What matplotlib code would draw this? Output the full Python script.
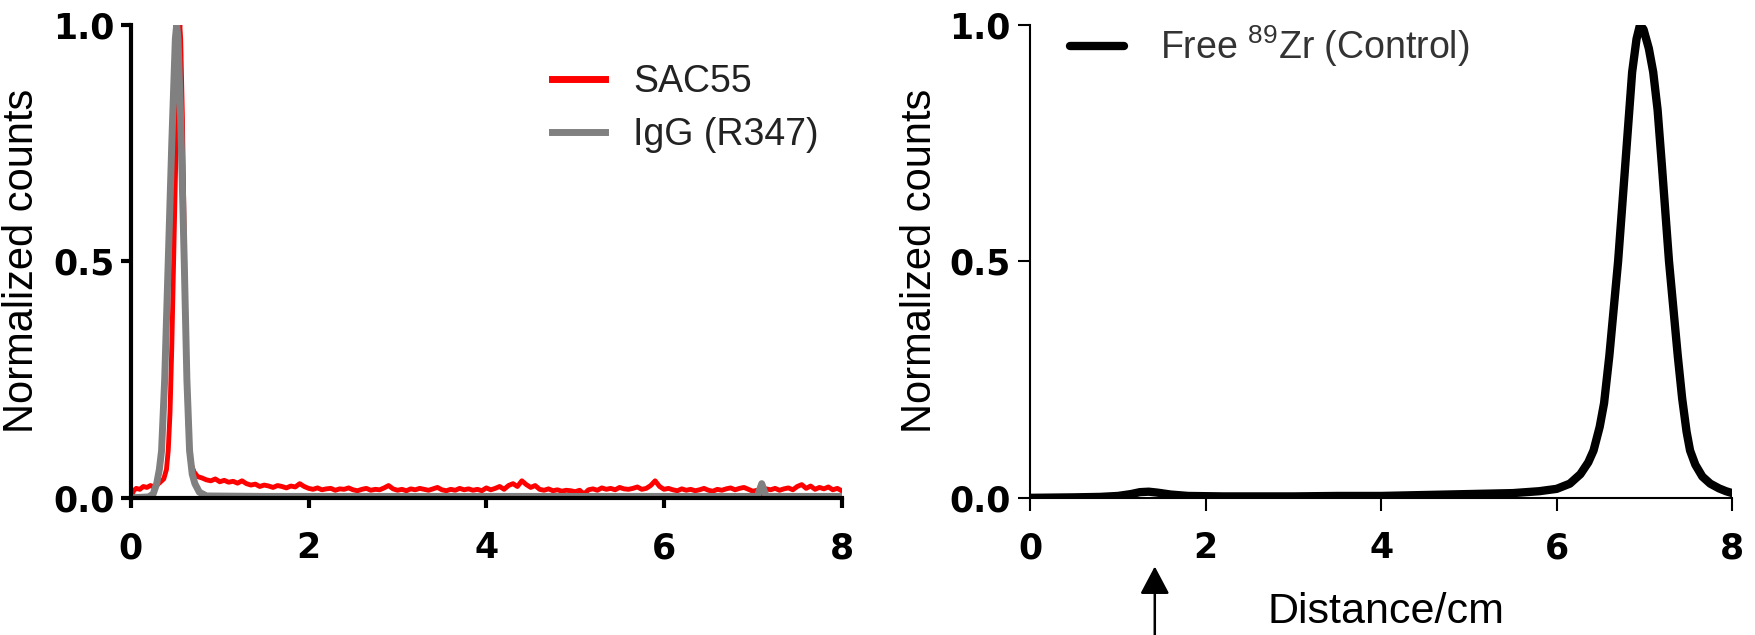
import numpy as np
import matplotlib
matplotlib.use("Agg")
from matplotlib import pyplot as plt

plt.rcParams['font.family'] = ['Liberation Sans', 'DejaVu Sans']
plt.rcParams['mathtext.fontset'] = 'custom'
plt.rcParams['mathtext.rm'] = 'Liberation Sans'

# ---- left panel: SAC55 (red) and IgG R347 (gray) ----
sac_peak_x = [0.0, 0.03, 0.06, 0.10, 0.14, 0.18, 0.22, 0.26, 0.30, 0.34, 0.37, 0.40, 0.42,
              0.44, 0.46, 0.48, 0.50, 0.52, 0.54, 0.55, 0.56, 0.58, 0.60, 0.62, 0.64, 0.66,
              0.68, 0.71, 0.75]
sac_peak_y = [0.0, 0.015, 0.020, 0.018, 0.024, 0.022, 0.026, 0.023, 0.028, 0.035, 0.040, 0.060, 0.10,
              0.18, 0.32, 0.50, 0.68, 0.85, 0.97, 1.0, 0.97, 0.80, 0.55, 0.32, 0.17, 0.10,
              0.07, 0.055, 0.045]
# baseline noise, read every 0.05 cm from 0.80 to 8.00
sac_base_y = [0.042, 0.038, 0.036, 0.040, 0.034, 0.037, 0.033, 0.035, 0.031, 0.036,
              0.030, 0.027, 0.029, 0.024, 0.027, 0.025, 0.022, 0.026, 0.024, 0.021,
              0.025, 0.023, 0.030, 0.024, 0.020, 0.018, 0.021, 0.017, 0.019, 0.020,
              0.016, 0.019, 0.018, 0.021, 0.017, 0.015, 0.018, 0.020, 0.016, 0.018,
              0.017, 0.021, 0.026, 0.019, 0.016, 0.018, 0.015, 0.019, 0.017, 0.020,
              0.018, 0.016, 0.019, 0.022, 0.017, 0.015, 0.018, 0.016, 0.020, 0.017,
              0.019, 0.016, 0.018, 0.015, 0.021, 0.017, 0.020, 0.024, 0.018, 0.026,
              0.030, 0.024, 0.036, 0.028, 0.022, 0.026, 0.018, 0.016, 0.019, 0.015,
              0.017, 0.014, 0.016, 0.015, 0.013, 0.016, 0.008, 0.017, 0.019, 0.016,
              0.021, 0.018, 0.020, 0.017, 0.022, 0.019, 0.018, 0.020, 0.023, 0.018,
              0.020, 0.026, 0.036, 0.024, 0.018, 0.020, 0.017, 0.015, 0.019, 0.016,
              0.018, 0.015, 0.017, 0.020, 0.016, 0.014, 0.018, 0.016, 0.019, 0.021,
              0.017, 0.020, 0.022, 0.018, 0.014, 0.016, 0.008, 0.019, 0.017, 0.020,
              0.016, 0.019, 0.021, 0.017, 0.024, 0.028, 0.020, 0.025, 0.018, 0.022,
              0.019, 0.023, 0.017, 0.020, 0.015]
sac_base_x = np.round(0.80 + 0.05 * np.arange(len(sac_base_y)), 2)

igg_x = [0.0, 0.20, 0.25, 0.29, 0.32, 0.345, 0.38, 0.42, 0.46, 0.50, 0.515, 0.53, 0.56,
         0.60, 0.63, 0.66, 0.69, 0.72, 0.77, 0.85, 1.5, 2.5, 3.5, 4.5, 5.5, 6.5, 7.05,
         7.10, 7.15, 8.0]
igg_y = [0.0, 0.002, 0.008, 0.03, 0.06, 0.10, 0.25, 0.50, 0.75, 0.97, 1.0, 0.97, 0.80,
         0.50, 0.25, 0.10, 0.05, 0.03, 0.012, 0.004, 0.003, 0.003, 0.003, 0.003, 0.003, 0.003, 0.003,
         0.03, 0.003, 0.003]

# ---- right panel: free 89Zr control ----
zr_x = [0.0, 0.5, 0.8, 1.0, 1.15, 1.25, 1.35, 1.45, 1.6, 1.8, 2.2, 3.0, 3.5, 4.0, 4.5, 5.0,
        5.5, 5.8, 6.0, 6.15, 6.27, 6.36, 6.42, 6.49, 6.54, 6.60, 6.65, 6.70, 6.74, 6.78,
        6.82, 6.86, 6.91, 6.95, 6.99, 7.05, 7.10, 7.15, 7.20, 7.24, 7.28, 7.33, 7.38,
        7.43, 7.48, 7.52, 7.58, 7.66, 7.75, 7.85, 7.93, 8.0]
zr_y = [0.0, 0.001, 0.002, 0.004, 0.008, 0.012, 0.013, 0.011, 0.007, 0.004, 0.003, 0.003, 0.004,
        0.004, 0.006, 0.008, 0.010, 0.014, 0.019, 0.03, 0.05, 0.075, 0.10, 0.15, 0.20, 0.30,
        0.40, 0.50, 0.60, 0.70, 0.80, 0.90, 0.97, 1.0, 0.99, 0.95, 0.90, 0.82, 0.70, 0.60,
        0.50, 0.40, 0.30, 0.21, 0.14, 0.10, 0.07, 0.045, 0.03, 0.02, 0.014, 0.01]

xticks = [0, 2, 4, 6, 8]
yticks = [0.0, 0.5, 1.0]
ytick_labels = ["0.0", "0.5", "1.0"]
arrow_x = 1.42

fig = plt.figure(figsize=(17.55, 6.35), dpi=100)
ax1 = fig.add_axes([0.0746, 0.216, 0.405, 0.745])
ax2 = fig.add_axes([0.587, 0.216, 0.400, 0.745])


def style_axes(ax, spine_w, tick_len):
	ax.set_xlim(0, 8)
	ax.set_ylim(0, 1)
	ax.set_xticks(xticks)
	ax.set_yticks(yticks)
	ax.set_yticklabels(ytick_labels)
	for s in ["top", "right"]:
		ax.spines[s].set_visible(False)
	for s in ["left", "bottom"]:
		ax.spines[s].set_linewidth(spine_w)
	ax.tick_params(width=spine_w, length=tick_len, labelsize=25)
	ax.tick_params(axis="y", pad=5)
	ax.tick_params(axis="x", pad=24 - tick_len)
	for lab in ax.get_xticklabels() + ax.get_yticklabels():
		lab.set_fontfamily("DejaVu Sans")
		lab.set_fontweight("bold")
	ax.set_ylabel("Normalized counts", fontsize=30)


ax1.plot(np.concatenate([sac_peak_x, sac_base_x]), np.concatenate([sac_peak_y, sac_base_y]),
         color="#ff0000", lw=3.5, label="SAC55", solid_joinstyle="round")
ax1.plot(igg_x, igg_y, color="#808080", lw=5, label="IgG (R347)")
style_axes(ax1, 3, 7)
ax1.yaxis.set_label_coords(-0.125, 0.5)
leg1 = ax1.legend(loc="upper left", bbox_to_anchor=(0.572, 0.948), frameon=False, fontsize=27,
                  handlelength=1.4, handletextpad=0.75, labelspacing=0.45, labelcolor="#222222",
                  borderaxespad=0)
for h in leg1.get_lines():
	h.set_linewidth(5)

ax2.plot(zr_x, zr_y, color="black", lw=6, label=r"Free $\mathregular{^{89}}$Zr (Control)",
         solid_joinstyle="round", solid_capstyle="round")
style_axes(ax2, 1.5, 9)
ax2.yaxis.set_label_coords(-0.128, 0.5)
leg2 = ax2.legend(loc="upper left", bbox_to_anchor=(0.035, 1.035), frameon=False, fontsize=27,
                  handlelength=1.45, handletextpad=0.95, labelcolor="#333333", borderaxespad=0)
for h in leg2.get_lines():
	h.set_linewidth(6)

# arrow under the small peak + axis title
ax2.annotate("", xy=(arrow_x, -0.145), xytext=(arrow_x, -0.29),
             xycoords=ax2.get_xaxis_transform(), textcoords=ax2.get_xaxis_transform(),
             arrowprops=dict(arrowstyle="-|>,head_length=0.85,head_width=0.45", lw=1.8,
                             color="black", mutation_scale=20, shrinkA=0, shrinkB=0),
             annotation_clip=False)
fig.text(0.790, 0.036, "Distance/cm", fontsize=31, ha="center", va="center")

fig.savefig("out.png", dpi=100)
